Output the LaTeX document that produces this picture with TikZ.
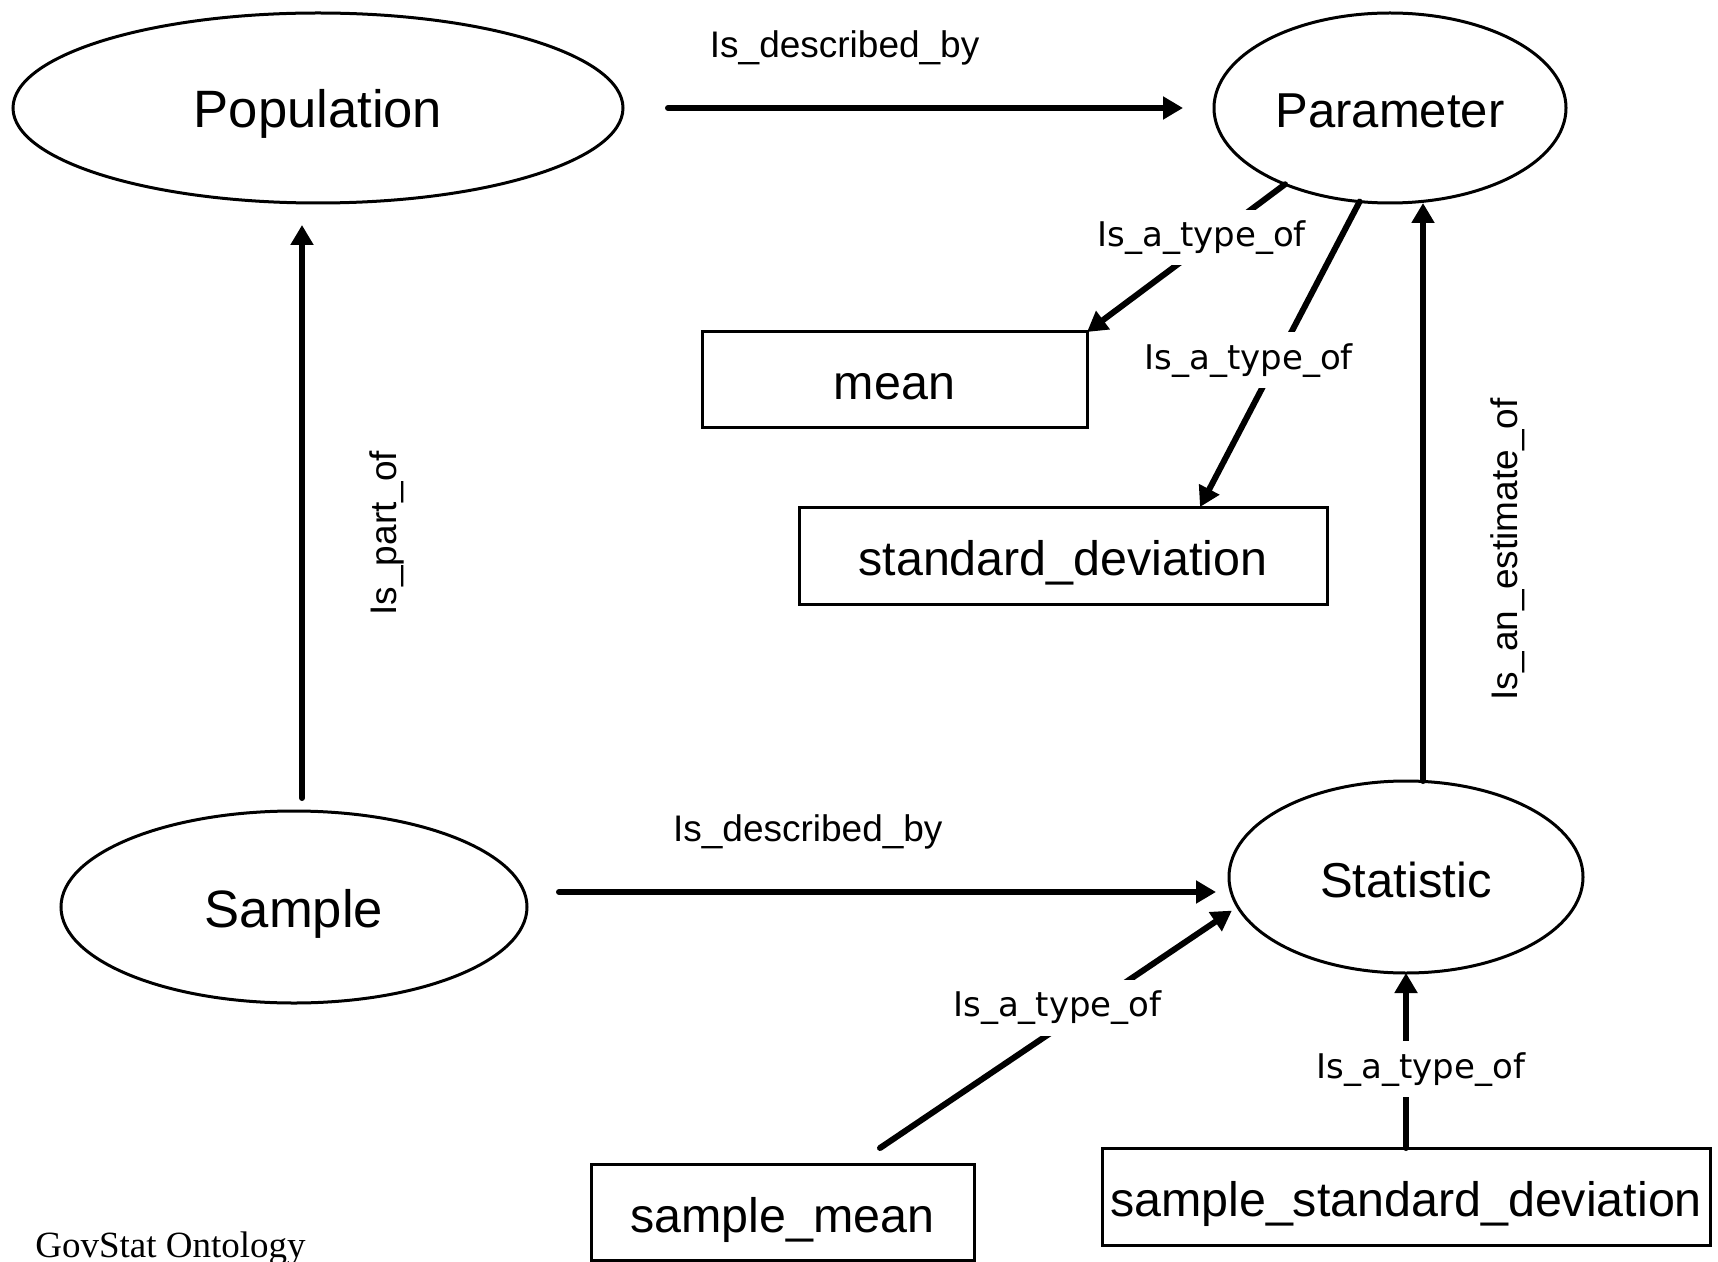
\documentclass[tikz,border=0pt]{standalone}
\usepackage{fontspec}
\setmainfont{Liberation Sans}
\newfontfamily\tahomafont{DejaVu Sans}
\newfontfamily\timesfont{Liberation Serif}
\usetikzlibrary{arrows.meta,positioning,shapes.geometric}
\tikzstyle{concept}=[draw, ellipse, line width=1.5pt, inner sep=0pt, outer sep=0pt, text height=22pt, text depth=2pt, font=\fontsize{24.5}{28}\selectfont]
\tikzstyle{bigconcept}=[concept, font=\fontsize{26.3}{30}\selectfont]
\tikzstyle{term}=[draw, rectangle, line width=1.5pt, inner sep=0pt, outer sep=0pt, text height=22pt, text depth=2pt, font=\fontsize{24.2}{28}\selectfont]
\tikzstyle{rel}=[->, line width=3pt, line cap=round]
\tikzstyle{lbl}=[fill=white, inner sep=5.5pt, font=\fontsize{18.5}{21}\selectfont]
\tikzstyle{typelbl}=[fill=white, inner sep=5.5pt, font=\tahomafont\fontsize{17}{20}\selectfont]

\begin{document}
\begin{tikzpicture}[x=0.5pt,y=-0.5pt,on grid,>={Triangle[length=10pt,width=11pt]}]
  \useasboundingbox (0,0) rectangle (1718,1262);
  % concepts
  \node [bigconcept, minimum width=305pt, minimum height=95pt] (pop) at (318,108) {Population};
  \node [concept, minimum width=176pt, minimum height=95pt] (param) [right=536pt of pop] {Parameter};
  \node [bigconcept, minimum width=233pt, minimum height=96pt] (sample) [below left=399.5pt and 12pt of pop] {Sample};
  \node [concept, minimum width=177pt, minimum height=96pt] (stat) [below right=384.5pt and 8pt of param] {Statistic};
  % terms
  \node [term, minimum width=192.5pt, minimum height=48pt] (mean) [below left=136pt and 247.75pt of param] {mean};
  \node [term, minimum width=264pt, minimum height=48.5pt] (sd) [below left=223.75pt and 163.5pt of param] {standard\_deviation};
  \node [term, minimum width=191.5pt, minimum height=48pt] (smean) [below left=167.5pt and 311.75pt of stat] {sample\_mean};
  \node [term, minimum width=304pt, minimum height=48.5pt] (ssd) [below=159.75pt of stat] {sample\_standard\_deviation};
  \node [anchor=base west, inner sep=0pt, font=\timesfont\fontsize{18.5}{20}\selectfont] (govstat) at (35,1257) {GovStat Ontology};
  % relations
  \path[rel]
    (pop.east) edge[shorten <=22.5pt, shorten >=15.5pt] node[lbl, pos=.375, yshift=30pt] {Is\_described\_by} (param.west)
    ([xshift=4pt]sample.north) edge[shorten <=6.5pt, shorten >=11pt] node[lbl, pos=.457, xshift=42.5pt, rotate=90] {Is\_part\_of} ([xshift=-8pt]pop.south)
    ([yshift=7.5pt]sample.east) edge[shorten <=16pt, shorten >=6.5pt] node[lbl, pos=.40, yshift=30pt] {Is\_described\_by} ([yshift=-7.5pt]stat.west)
    ([xshift=8.5pt]stat.north) edge node[lbl, pos=.40, xshift=42.5pt, rotate=90] {Is\_an\_estimate\_of} ([xshift=16.5pt]param.south)
    (param.216) edge node[typelbl, pos=.36, xshift=-6pt] {Is\_a\_type\_of} (mean.north east)
    (param.252) edge node[typelbl, pos=.52, xshift=-14pt] {Is\_a\_type\_of} ([xshift=68.5pt]sd.north)
    ([shift={(48.75pt,8pt)}]smean.north) edge[shorten >=3.5pt] node[typelbl, pos=.58, xshift=-15pt] {Is\_a\_type\_of} (stat.190)
    (ssd) edge node[typelbl, pos=.45, xshift=7.5pt] {Is\_a\_type\_of} (stat);
\end{tikzpicture}
\end{document}
